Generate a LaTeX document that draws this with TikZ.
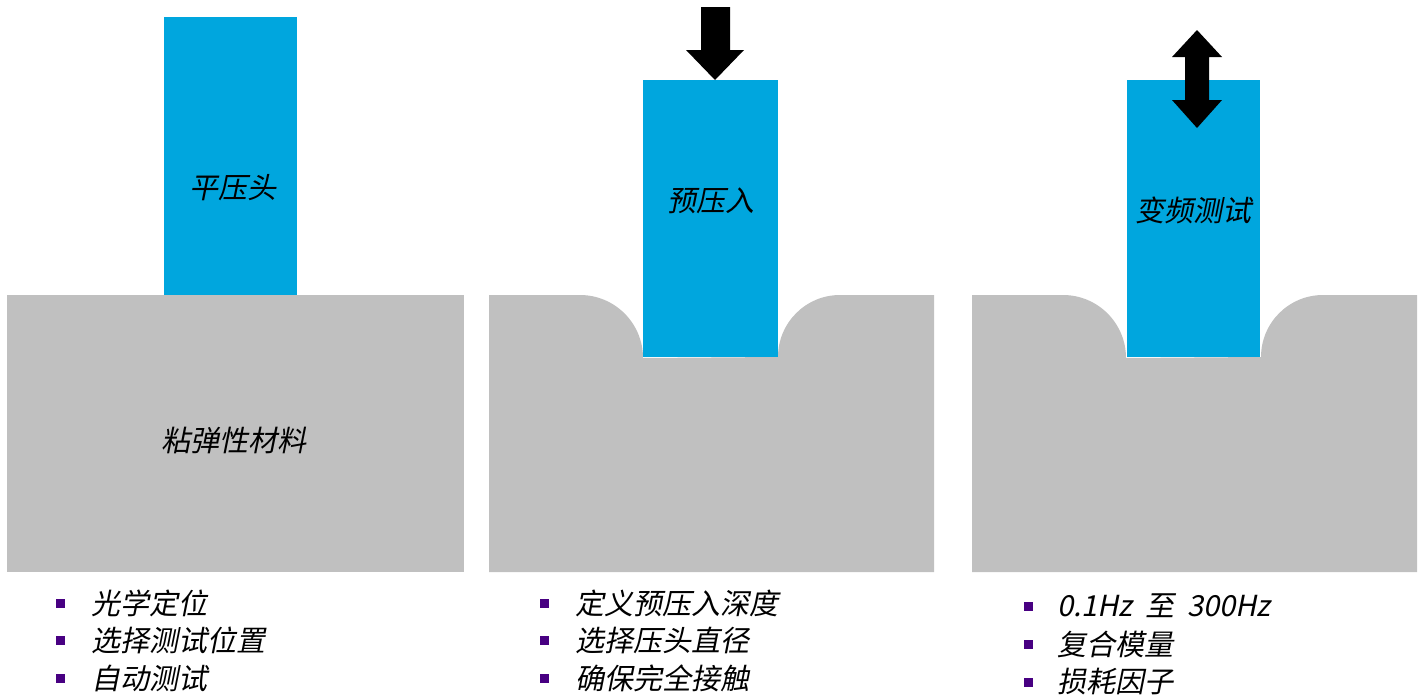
\documentclass[tikz,border=0pt]{standalone}
\usepackage{fontspec}
\newfontfamily\cjk[FakeSlant=0.2]{Noto Sans CJK SC}
\definecolor{tipblue}{RGB}{0,166,222}
\definecolor{matgray}{RGB}{192,192,192}
\definecolor{bulletpurple}{RGB}{72,0,130}
\begin{document}
\begin{tikzpicture}[x=1pt,y=-1pt,
  label/.style={font=\cjk\fontsize{29}{31}\selectfont,inner sep=0pt},
  item/.style={font=\cjk\fontsize{29}{31}\selectfont,inner sep=0pt,anchor=west},
  bul/.style={fill=bulletpurple,minimum size=9pt,inner sep=0pt},
  tip/.style={fill=tipblue,draw=none},
  mat/.style={fill=matgray,draw=none},
  arr/.style={fill=black,draw=none}]
\useasboundingbox (0,0) rectangle (1423,696);
% panel 1
\fill[mat] (7,295) rectangle (464,572);
\fill[tip] (164,17) rectangle (297,295);
\node[label] (t1) at (233,188) {平压头};
\node[label] (m1) at (234,440) {粘弹性材料};
% panel 2
\fill[mat] (489,295) -- (580,295) arc[start angle=-90,end angle=0,radius=63] -- (778,357)
  arc[start angle=180,end angle=270,radius=62] -- (934,295) -- (934,572) -- (489,572) -- cycle;
\fill[tip] (643,80) rectangle (778,357);
\fill[arr] (701,7) -- (730,7) -- (730,50) -- (744,50) -- (715,80) -- (686,50) -- (701,50) -- cycle;
\node[label] (t2) at (711,201) {预压入};
% panel 3
\fill[mat] (972,295) -- (1063,295) arc[start angle=-90,end angle=0,radius=63] -- (1261,357)
  arc[start angle=180,end angle=270,radius=62] -- (1417,295) -- (1417,572) -- (972,572) -- cycle;
\fill[tip] (1127,80) rectangle (1260,357);
\fill[arr] (1197,30) -- (1222,57) -- (1209,57) -- (1209,100) -- (1222,100) -- (1197,128)
  -- (1172,100) -- (1185,100) -- (1185,57) -- (1172,57) -- cycle;
\node[label] (t3) at (1193,210) {变频测试};
% bullets panel 1
\node[bul] (b11) at (60,603) {};
\node[item] (i11) at (91,603) {光学定位};
\node[bul] (b12) at (60,640) {};
\node[item] (i12) at (91,640) {选择测试位置};
\node[bul] (b13) at (60,678) {};
\node[item] (i13) at (91,678) {自动测试};
% bullets panel 2
\node[bul] (b21) at (544,603) {};
\node[item] (i21) at (575,603) {定义预压入深度};
\node[bul] (b22) at (544,640) {};
\node[item] (i22) at (575,640) {选择压头直径};
\node[bul] (b23) at (544,678) {};
\node[item] (i23) at (575,678) {确保完全接触};
% bullets panel 3
\node[bul] (b31) at (1028,606) {};
\node[item] (i31) at (1057,606) {0.1Hz\ \ 至\ \ 300Hz};
\node[bul] (b32) at (1028,644) {};
\node[item] (i32) at (1057,644) {复合模量};
\node[bul] (b33) at (1028,682) {};
\node[item] (i33) at (1057,682) {损耗因子};
\end{tikzpicture}
\end{document}
